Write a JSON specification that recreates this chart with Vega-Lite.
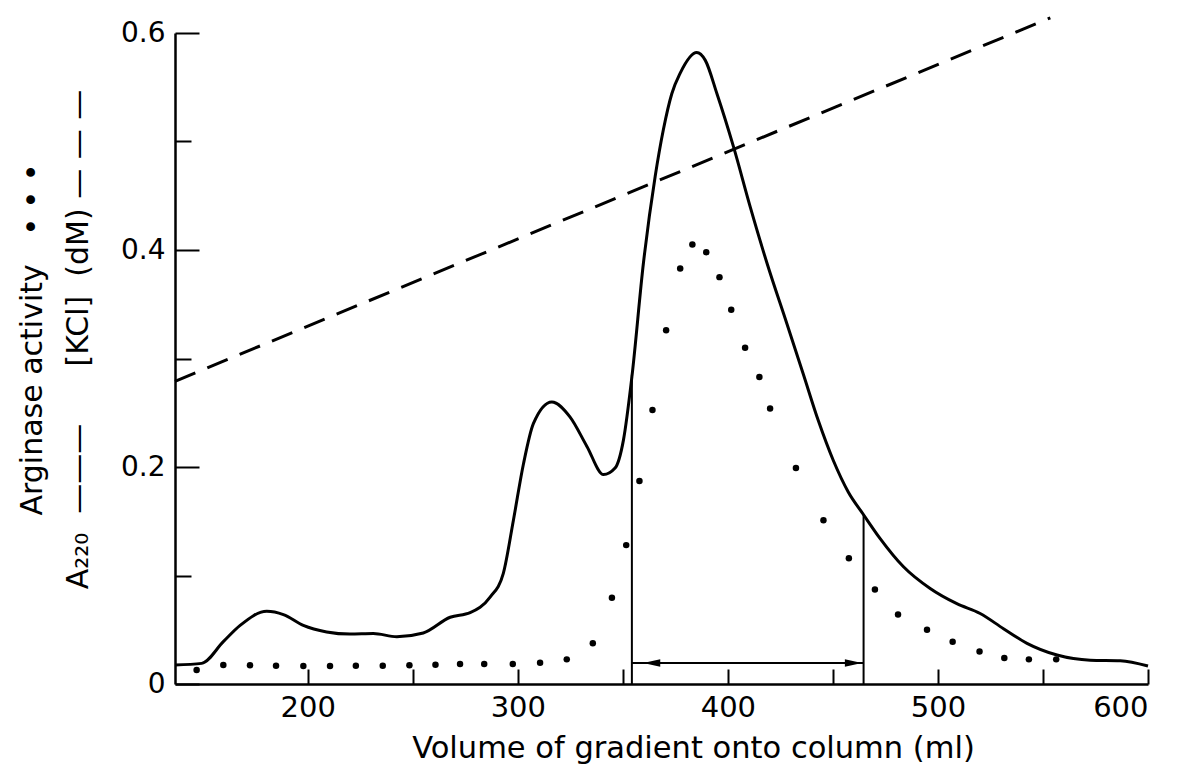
{
  "$schema": "https://vega.github.io/schema/vega-lite/v6.json",
  "width": 973,
  "height": 651,
  "autosize": {"type": "none"},
  "padding": {"left": 175, "top": 33, "right": 33, "bottom": 85},
  "background": "white",
  "config": {
    "view": {"stroke": null},
    "font": "DejaVu Sans",
    "axis": {
      "domainColor": "black",
      "domainWidth": 2.5,
      "tickColor": "black",
      "tickWidth": 2,
      "labelColor": "black",
      "titleColor": "black",
      "labelFont": "DejaVu Sans",
      "titleFont": "DejaVu Sans",
      "titleFontWeight": "normal",
      "grid": false
    }
  },
  "datasets": {
    "a220": [
      {"x": 136.8, "y": 0.0175}, {"x": 149.5, "y": 0.019}, {"x": 159.8, "y": 0.039},
      {"x": 167.8, "y": 0.054}, {"x": 180.5, "y": 0.067}, {"x": 188.4, "y": 0.064},
      {"x": 197.9, "y": 0.054}, {"x": 209.0, "y": 0.048}, {"x": 220.1, "y": 0.046},
      {"x": 231.2, "y": 0.0465}, {"x": 242.4, "y": 0.0436}, {"x": 255.0, "y": 0.047},
      {"x": 267.8, "y": 0.0615}, {"x": 277.3, "y": 0.0657}, {"x": 286.8, "y": 0.080},
      {"x": 293.1, "y": 0.102}, {"x": 297.9, "y": 0.151}, {"x": 302.7, "y": 0.203},
      {"x": 307.4, "y": 0.240}, {"x": 316.2, "y": 0.260}, {"x": 324.9, "y": 0.246},
      {"x": 332.9, "y": 0.219}, {"x": 340.8, "y": 0.193}, {"x": 346.3, "y": 0.199},
      {"x": 350.3, "y": 0.225}, {"x": 354.3, "y": 0.283}, {"x": 359.8, "y": 0.388},
      {"x": 365.4, "y": 0.468}, {"x": 369.3, "y": 0.511}, {"x": 373.3, "y": 0.544},
      {"x": 377.3, "y": 0.563}, {"x": 385.2, "y": 0.582}, {"x": 389.2, "y": 0.575},
      {"x": 394.8, "y": 0.544}, {"x": 402.7, "y": 0.495}, {"x": 410.6, "y": 0.440},
      {"x": 418.6, "y": 0.388}, {"x": 428.1, "y": 0.332}, {"x": 436.0, "y": 0.285},
      {"x": 443.0, "y": 0.243}, {"x": 450.3, "y": 0.2055}, {"x": 457.3, "y": 0.177},
      {"x": 464.6, "y": 0.156}, {"x": 472.5, "y": 0.134},
      {"x": 483.6, "y": 0.108}, {"x": 496.3, "y": 0.088}, {"x": 509.0, "y": 0.074},
      {"x": 520.1, "y": 0.065}, {"x": 531.2, "y": 0.051}, {"x": 542.4, "y": 0.0375},
      {"x": 556.7, "y": 0.0267}, {"x": 572.5, "y": 0.022}, {"x": 586.8, "y": 0.0215},
      {"x": 600.0, "y": 0.0166}
    ],
    "arginase": [
      {"x": 147.1, "y": 0.0129}, {"x": 159.8, "y": 0.0175}, {"x": 172.5, "y": 0.0172},
      {"x": 184.9, "y": 0.0169}, {"x": 197.9, "y": 0.0166}, {"x": 210.6, "y": 0.0166},
      {"x": 222.9, "y": 0.0169}, {"x": 235.7, "y": 0.0169}, {"x": 248.4, "y": 0.0172},
      {"x": 260.8, "y": 0.0178}, {"x": 272.5, "y": 0.0184}, {"x": 284.0, "y": 0.0184},
      {"x": 297.6, "y": 0.0184}, {"x": 310.6, "y": 0.0196}, {"x": 323.3, "y": 0.0227},
      {"x": 335.7, "y": 0.0375}, {"x": 344.8, "y": 0.0795}, {"x": 351.6, "y": 0.128},
      {"x": 357.9, "y": 0.187}, {"x": 364.1, "y": 0.2525}, {"x": 370.6, "y": 0.326},
      {"x": 377.3, "y": 0.383}, {"x": 383.1, "y": 0.405}, {"x": 389.7, "y": 0.398},
      {"x": 396.0, "y": 0.375}, {"x": 401.6, "y": 0.345}, {"x": 408.2, "y": 0.310},
      {"x": 415.0, "y": 0.283}, {"x": 420.1, "y": 0.254}, {"x": 432.4, "y": 0.199},
      {"x": 445.5, "y": 0.151}, {"x": 457.6, "y": 0.116}, {"x": 470.0, "y": 0.087},
      {"x": 481.0, "y": 0.064}, {"x": 494.8, "y": 0.050}, {"x": 507.0, "y": 0.039},
      {"x": 519.8, "y": 0.030}, {"x": 531.6, "y": 0.024}, {"x": 543.3, "y": 0.0227},
      {"x": 556.3, "y": 0.0227}
    ],
    "kcl": [
      {"x": 136.8, "y": 0.279}, {"x": 553.5, "y": 0.614}
    ],
    "cuts": [
      {"x": 354.3, "y": 0, "y2": 0.285}, {"x": 464.6, "y": 0, "y2": 0.156}
    ],
    "arrow": [
      {"x": 354.3, "x2": 464.6, "y": 0.0194}
    ],
    "heads": [
      {"x": 359.7, "y": 0.0194, "end": "left"}, {"x": 463.8, "y": 0.0194, "end": "right"}
    ]
  },
  "encoding": {
    "x": {
      "field": "x", "type": "quantitative",
      "scale": {"domain": [136.8, 600], "nice": false, "zero": false},
      "axis": {
        "values": [200, 250, 300, 350, 400, 450, 500, 550, 600],
        "labelExpr": "datum.value % 100 === 0 ? datum.label : ''",
        "tickSize": -15,
        "labelPadding": 24,
        "labelFontSize": 29,
        "labelBaseline": "top",
        "title": "Volume of gradient onto column (ml)",
        "titleFontSize": 30.5,
        "titleX": 518,
        "titleY": 73,
        "titleAlign": "center",
        "titleBaseline": "alphabetic"
      }
    },
    "y": {
      "field": "y", "type": "quantitative",
      "scale": {"domain": [0, 0.6], "nice": false, "zero": true},
      "axis": {
        "values": [0, 0.1, 0.2, 0.3, 0.4, 0.5, 0.6],
        "labelExpr": "datum.value === 0 ? '0' : (round(datum.value * 10) % 2 === 0 ? format(datum.value, '.1f') : '')",
        "tickSize": {"condition": {"test": "round(datum.value * 10) % 2 === 0", "value": -24}, "value": -16},
        "labelPadding": 34,
        "labelFontSize": 28,
        "title": ["Arginase activity\u00a0\u00a0\u00a0•\u00a0•\u00a0•\u00a0\u00a0\u00a0", "A₂₂₀\u00a0\u00a0———\u00a0\u00a0\u00a0\u00a0\u00a0\u00a0[KCl]\u00a0\u00a0(dM)\u00a0— — —"],
        "titleFontSize": 30,
        "titleLineHeight": 46,
        "titleX": -128,
        "titleY": 306,
        "titleAngle": -90,
        "titleAlign": "center",
        "titleBaseline": "bottom"
      }
    }
  },
  "layer": [
    {
      "data": {"name": "kcl"},
      "mark": {"type": "line", "color": "black", "strokeWidth": 3, "strokeDash": [22, 13]}
    },
    {
      "data": {"name": "a220"},
      "mark": {"type": "line", "color": "black", "strokeWidth": 3, "interpolate": "monotone"}
    },
    {
      "data": {"name": "arginase"},
      "mark": {"type": "point", "filled": true, "color": "black", "size": 42, "opacity": 1}
    },
    {
      "data": {"name": "cuts"},
      "mark": {"type": "rule", "color": "black", "strokeWidth": 2},
      "encoding": {"y2": {"field": "y2"}}
    },
    {
      "data": {"name": "arrow"},
      "mark": {"type": "rule", "color": "black", "strokeWidth": 2},
      "encoding": {"x2": {"field": "x2"}}
    },
    {
      "data": {"name": "heads"},
      "transform": [{"filter": "datum.end === 'left'"}],
      "mark": {"type": "point", "filled": true, "color": "black", "opacity": 1, "size": 289, "shape": "M 0 0 L 2 -0.45 L 2 0.45 Z"}
    },
    {
      "data": {"name": "heads"},
      "transform": [{"filter": "datum.end === 'right'"}],
      "mark": {"type": "point", "filled": true, "color": "black", "opacity": 1, "size": 289, "shape": "M 0 0 L -2 -0.45 L -2 0.45 Z"}
    }
  ]
}
